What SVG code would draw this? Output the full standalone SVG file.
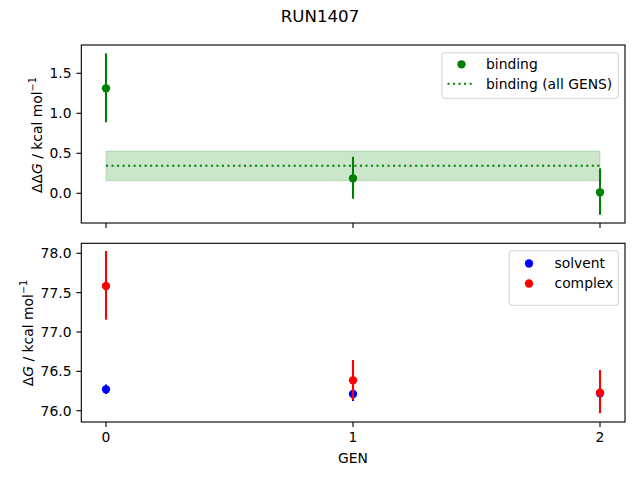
<svg xmlns="http://www.w3.org/2000/svg" width="640" height="480" viewBox="0 0 640 480">
<style>
text{font-family:"DejaVu Sans","Liberation Sans",sans-serif;fill:#000;}
.tick{font-size:13.89px;}
.ytl{text-anchor:end;}
.xtl{text-anchor:middle;}
.spine{fill:none;stroke:#000;stroke-width:1.11;}
.tk{stroke:#000;stroke-width:1.11;}
.leg{fill:#fff;fill-opacity:0.8;stroke:#ccc;stroke-opacity:0.8;stroke-width:1.1;}
.eg{stroke:#008000;stroke-width:2.08;}
.eb{stroke:#0000ff;stroke-width:2.08;}
.er{stroke:#ff0000;stroke-width:2.08;}
.mg{fill:#008000;}
.mb{fill:#0000ff;}
.mr{fill:#ff0000;}
.dot{stroke:#008000;stroke-width:2.08;stroke-dasharray:2.08 3.44;fill:none;}
</style>
<rect x="0" y="0" width="640" height="480" fill="#fff"/>
<text x="320" y="21.7" font-size="16.67" text-anchor="middle">RUN1407</text>

<g id="top-axes">
  <rect x="81.3" y="45" width="543.7" height="178" fill="#fff"/>
  <rect x="106" y="151" width="494" height="29.7" fill="#008000" fill-opacity="0.2" stroke="#008000" stroke-opacity="0.2" stroke-width="1"/>
  <line class="dot" x1="106" y1="165.8" x2="600" y2="165.8"/>
  <g id="binding-points">
    <line class="eg" x1="106" y1="53.3" x2="106" y2="122.3"/>
    <line class="eg" x1="353" y1="156.7" x2="353" y2="198.7"/>
    <line class="eg" x1="600" y1="168.3" x2="600" y2="214.7"/>
    <circle class="mg" cx="106" cy="88.3" r="4.17"/>
    <circle class="mg" cx="353" cy="178.3" r="4.17"/>
    <circle class="mg" cx="600" cy="192.3" r="4.17"/>
  </g>
  <rect class="spine" x="81.3" y="45" width="543.7" height="178"/>
  <g id="top-yticks">
    <line class="tk" x1="76.4" y1="73.3" x2="81.3" y2="73.3"/>
    <line class="tk" x1="76.4" y1="113.3" x2="81.3" y2="113.3"/>
    <line class="tk" x1="76.4" y1="153.3" x2="81.3" y2="153.3"/>
    <line class="tk" x1="76.4" y1="193.3" x2="81.3" y2="193.3"/>
    <text class="tick ytl" x="71.5" y="78.4">1.5</text>
    <text class="tick ytl" x="71.5" y="118.4">1.0</text>
    <text class="tick ytl" x="71.5" y="158.4">0.5</text>
    <text class="tick ytl" x="71.5" y="198.4">0.0</text>
  </g>
  <g id="top-xticks">
    <line class="tk" x1="106" y1="223" x2="106" y2="227.9"/>
    <line class="tk" x1="353" y1="223" x2="353" y2="227.9"/>
    <line class="tk" x1="600" y1="223" x2="600" y2="227.9"/>
  </g>
  <text transform="translate(41.5 135) rotate(-90)" font-size="13.89" text-anchor="middle">ΔΔ<tspan font-style="italic">G</tspan> / kcal mol<tspan font-size="9.7" dy="-5.5">−1</tspan></text>
  <g id="top-legend">
    <rect class="leg" x="442" y="52.7" width="176.3" height="45.6" rx="2.8"/>
    <circle class="mg" cx="461.5" cy="64.3" r="4.17"/>
    <text class="tick" x="486" y="69.2">binding</text>
    <line class="dot" x1="447.5" y1="83.8" x2="475" y2="83.8"/>
    <text class="tick" x="486" y="89.2">binding (all GENS)</text>
  </g>
</g>

<g id="bottom-axes">
  <rect x="81.3" y="243.3" width="543.7" height="178.7" fill="#fff"/>
  <g id="solvent-points">
    <line class="eb" x1="106" y1="384.5" x2="106" y2="394"/>
    <line class="eb" x1="353" y1="387" x2="353" y2="401"/>
    <line class="eb" x1="600" y1="385" x2="600" y2="402"/>
    <circle class="mb" cx="106" cy="389.3" r="4.17"/>
    <circle class="mb" cx="353" cy="394" r="4.17"/>
    <circle class="mb" cx="600" cy="393.3" r="4.17"/>
  </g>
  <g id="complex-points">
    <line class="er" x1="106" y1="251" x2="106" y2="319.7"/>
    <line class="er" x1="353" y1="360" x2="353" y2="400"/>
    <line class="er" x1="600" y1="370" x2="600" y2="413.3"/>
    <circle class="mr" cx="106" cy="286" r="4.17"/>
    <circle class="mr" cx="353" cy="380.3" r="4.17"/>
    <circle class="mr" cx="600" cy="392.6" r="4.17"/>
  </g>
  <rect class="spine" x="81.3" y="243.3" width="543.7" height="178.7"/>
  <g id="bottom-yticks">
    <line class="tk" x1="76.4" y1="253.3" x2="81.3" y2="253.3"/>
    <line class="tk" x1="76.4" y1="292.65" x2="81.3" y2="292.65"/>
    <line class="tk" x1="76.4" y1="332" x2="81.3" y2="332"/>
    <line class="tk" x1="76.4" y1="371.35" x2="81.3" y2="371.35"/>
    <line class="tk" x1="76.4" y1="410.7" x2="81.3" y2="410.7"/>
    <text class="tick ytl" x="71.5" y="258.4">78.0</text>
    <text class="tick ytl" x="71.5" y="297.7">77.5</text>
    <text class="tick ytl" x="71.5" y="337.1">77.0</text>
    <text class="tick ytl" x="71.5" y="376.4">76.5</text>
    <text class="tick ytl" x="71.5" y="415.8">76.0</text>
  </g>
  <g id="bottom-xticks">
    <line class="tk" x1="106" y1="422" x2="106" y2="426.9"/>
    <line class="tk" x1="353" y1="422" x2="353" y2="426.9"/>
    <line class="tk" x1="600" y1="422" x2="600" y2="426.9"/>
    <text class="tick xtl" x="106" y="441.8">0</text>
    <text class="tick xtl" x="353" y="441.8">1</text>
    <text class="tick xtl" x="600" y="441.8">2</text>
  </g>
  <text class="tick" x="353" y="462.5" text-anchor="middle">GEN</text>
  <text transform="translate(32.5 333) rotate(-90)" font-size="13.89" text-anchor="middle">Δ<tspan font-style="italic">G</tspan> / kcal mol<tspan font-size="9.7" dy="-5.5">−1</tspan></text>
  <g id="bottom-legend">
    <rect class="leg" x="509.3" y="250.7" width="109" height="54.6" rx="2.8"/>
    <circle class="mb" cx="529" cy="263.5" r="4.17"/>
    <text class="tick" x="554.5" y="268.4">solvent</text>
    <circle class="mr" cx="529" cy="283.5" r="4.17"/>
    <text class="tick" x="554.5" y="288.4">complex</text>
  </g>
</g>
</svg>
